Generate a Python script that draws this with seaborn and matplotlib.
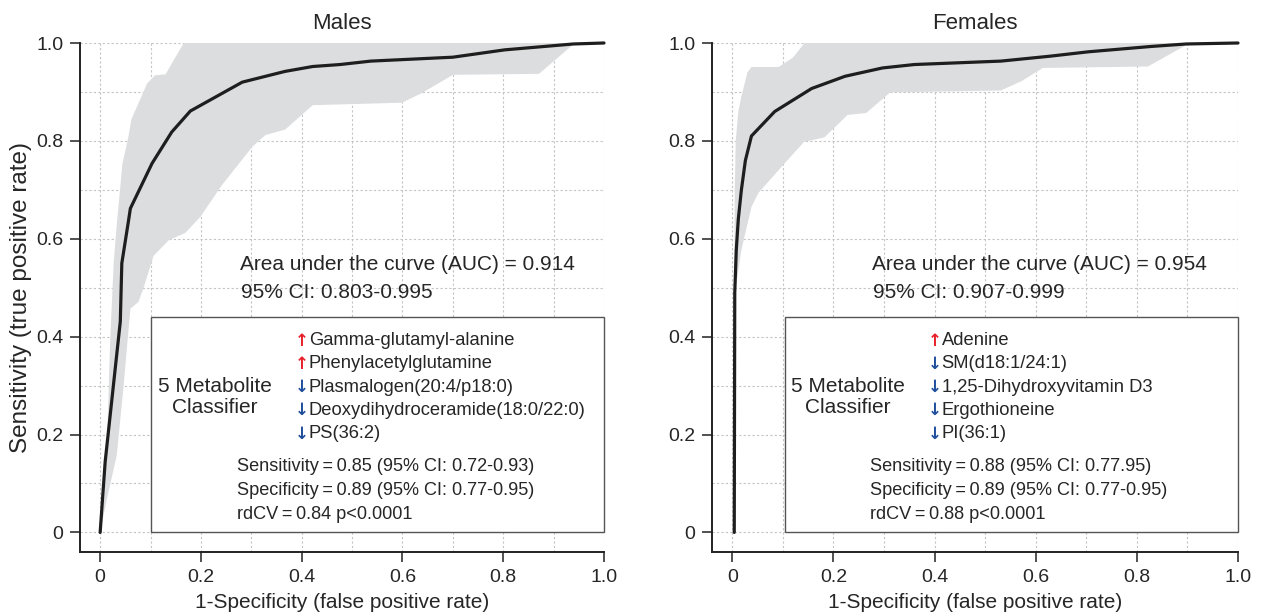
import numpy as np
import pandas as pd
import matplotlib.pyplot as plt
from matplotlib.patches import Rectangle
import seaborn as sns

# --- ROC data ---
male_fpr = [0.000, 0.010, 0.040, 0.043, 0.056, 0.060, 0.103, 0.142, 0.179, 0.282,
            0.367, 0.422, 0.476, 0.537, 0.700, 0.748, 0.803, 0.939, 1.000]
male_tpr = [0.000, 0.145, 0.431, 0.550, 0.635, 0.662, 0.754, 0.818, 0.861, 0.920,
            0.942, 0.952, 0.956, 0.963, 0.971, 0.978, 0.986, 0.998, 1.000]

# 95% CI band: upper edge (left side of band) and lower edge (right side)
male_hi_fpr = [0.000, 0.008, 0.013, 0.020, 0.027, 0.033, 0.040, 0.044, 0.056, 0.062,
               0.080, 0.093, 0.109, 0.130, 0.146, 0.166, 1.000]
male_hi_tpr = [0.000, 0.066, 0.158, 0.396, 0.553, 0.630, 0.706, 0.752, 0.808, 0.844,
               0.886, 0.917, 0.934, 0.936, 0.965, 1.000, 1.000]
male_lo_fpr = [0.000, 0.013, 0.033, 0.046, 0.053, 0.060, 0.076, 0.086, 0.106, 0.136,
               0.169, 0.199, 0.242, 0.302, 0.328, 0.367, 0.422, 0.599, 0.639, 0.700,
               0.871, 0.939, 1.000]
male_lo_tpr = [0.000, 0.066, 0.158, 0.294, 0.376, 0.457, 0.471, 0.499, 0.565, 0.597,
               0.612, 0.645, 0.710, 0.788, 0.812, 0.823, 0.873, 0.878, 0.898, 0.935,
               0.937, 0.997, 1.000]

female_fpr = [0.004, 0.005, 0.008, 0.012, 0.018, 0.026, 0.038, 0.084, 0.157, 0.223,
              0.297, 0.360, 0.531, 0.628, 0.704, 0.829, 0.898, 1.000]
female_tpr = [0.000, 0.490, 0.577, 0.640, 0.699, 0.760, 0.810, 0.860, 0.907, 0.932,
              0.949, 0.956, 0.963, 0.973, 0.982, 0.993, 0.998, 1.000]

female_hi_fpr = [0.004, 0.005, 0.007, 0.012, 0.018, 0.030, 0.038, 0.092, 0.105, 0.120,
                 0.143, 1.000]
female_hi_tpr = [0.480, 0.700, 0.800, 0.860, 0.890, 0.940, 0.951, 0.951, 0.960, 0.970,
                 1.000, 1.000]
female_lo_fpr = [0.004, 0.010, 0.018, 0.038, 0.052, 0.100, 0.142, 0.182, 0.228, 0.265,
                 0.312, 0.531, 0.572, 0.614, 0.822, 0.898, 1.000]
female_lo_tpr = [0.480, 0.520, 0.577, 0.665, 0.694, 0.750, 0.798, 0.807, 0.853, 0.857,
                 0.899, 0.903, 0.922, 0.949, 0.952, 0.996, 1.000]

# --- annotation text ---
titles = ["Males", "Females"]
auc_lines = [["Area under the curve (AUC) = 0.914", "95% CI: 0.803-0.995"],
             ["Area under the curve (AUC) = 0.954", "95% CI: 0.907-0.999"]]
male_markers = ["Gamma-glutamyl-alanine", "Phenylacetylglutamine",
                "Plasmalogen(20:4/p18:0)", "Deoxydihydroceramide(18:0/22:0)", "PS(36:2)"]
male_dirs = ["up", "up", "down", "down", "down"]
female_markers = ["Adenine", "SM(d18:1/24:1)", "1,25-Dihydroxyvitamin D3",
                  "Ergothioneine", "PI(36:1)"]
female_dirs = ["up", "down", "down", "down", "down"]
ts = "\u2009"
stats_lines = [[f"Sensitivity{ts}={ts}0.85 (95% CI: 0.72-0.93)",
                f"Specificity{ts}={ts}0.89 (95% CI: 0.77-0.95)",
                f"rdCV{ts}={ts}0.84 p<0.0001"],
               [f"Sensitivity{ts}={ts}0.88 (95% CI: 0.77.95)",
                f"Specificity{ts}={ts}0.89 (95% CI: 0.77-0.95)",
                f"rdCV{ts}={ts}0.88 p<0.0001"]]

sns.set_style("white")
plt.rcParams['font.family'] = ['Liberation Sans', 'DejaVu Sans']

fig = plt.figure(figsize=(12.62, 6.12), dpi=100)
ax_m = fig.add_axes([80 / 1262, 1 - 552 / 612, 524 / 1262, 509 / 612])
ax_f = fig.add_axes([712 / 1262, 1 - 552 / 612, 526 / 1262, 509 / 612])

panels = [
    (ax_m, male_fpr, male_tpr, male_hi_fpr, male_hi_tpr, male_lo_fpr, male_lo_tpr,
     male_markers, male_dirs),
    (ax_f, female_fpr, female_tpr, female_hi_fpr, female_hi_tpr, female_lo_fpr, female_lo_tpr,
     female_markers, female_dirs),
]

ticks = [0, 0.2, 0.4, 0.6, 0.8, 1.0]
tick_labels = ["0", "0.2", "0.4", "0.6", "0.8", "1.0"]
grid_pos = np.round(np.arange(0, 1.01, 0.1), 1)

for i, (ax, fpr, tpr, hi_x, hi_y, lo_x, lo_y, markers, dirs) in enumerate(panels):
    # CI band as polygon: upper edge up, lower edge back down
    band_x = list(hi_x) + list(lo_x)[::-1]
    band_y = list(hi_y) + list(lo_y)[::-1]
    ax.fill(band_x, band_y, color='#dcdddf', lw=0, zorder=1)

    roc = pd.DataFrame({'fpr': fpr, 'tpr': tpr})
    sns.lineplot(data=roc, x='fpr', y='tpr', ax=ax, sort=False, estimator=None,
                 color='#1e1e1e', lw=2.3, zorder=5, clip_on=False)

    ax.set_xlim(-0.04, 1.0)
    ax.set_ylim(-0.04, 1.0)
    ax.set_xticks(ticks)
    ax.set_xticklabels(tick_labels)
    ax.set_yticks(ticks)
    ax.set_yticklabels(tick_labels)
    ax.set_xticks(grid_pos, minor=True)
    ax.set_yticks(grid_pos, minor=True)
    ax.grid(which='both', color='#c4c4c4', linestyle=(0, (2, 2)), lw=0.8)
    ax.set_axisbelow(True)
    ax.tick_params(which='major', direction='out', length=7, width=1.1, color='#222222',
                   labelsize=14, pad=5, left=True, bottom=True)
    ax.tick_params(which='minor', length=0)
    for s in ['top', 'right']:
        ax.spines[s].set_visible(False)
    for s in ['left', 'bottom']:
        ax.spines[s].set_color('#222222')
        ax.spines[s].set_linewidth(1.4)

    ax.set_title(titles[i], fontsize=16, pad=10)
    ax.set_xlabel('1-Specificity (false positive rate)', fontsize=15, labelpad=5)
    if i == 0:
        ax.set_ylabel('Sensitivity (true positive rate)', fontsize=17.5, labelpad=3)
    else:
        ax.set_ylabel('')

    # AUC text
    ax.text(0.277, 0.547, auc_lines[i][0], fontsize=15, va='center', ha='left', zorder=6)
    ax.text(0.279, 0.490, auc_lines[i][1], fontsize=15, va='center', ha='left', zorder=6)

    # classifier box
    ax.add_patch(Rectangle((0.1 if i == 0 else 0.105, 0.0), 0.9 if i == 0 else 0.895, 0.441,
                           facecolor='white', edgecolor='#555555', lw=1.0,
                           zorder=3, clip_on=False))
    ax.text(0.228, 0.276, "5 Metabolite\nClassifier", fontsize=15, ha='center', va='center',
            linespacing=1.12, zorder=6)
    for k, (name, d) in enumerate(zip(markers, dirs)):
        yk = 0.392 - k * 0.0475
        arrow = '\u2191' if d == 'up' else '\u2193'
        col = '#e8202a' if d == 'up' else '#1f4e9c'
        ax.text(0.400, yk, arrow, color=col, fontsize=12, ha='center', va='center',
                family='DejaVu Sans', fontweight='bold', zorder=6)
        ax.text(0.414, yk, name, fontsize=13.2, ha='left', va='center', zorder=6)
    for k, line in enumerate(stats_lines[i]):
        ax.text(0.272, 0.135 - k * 0.049, line, fontsize=13.1, ha='left', va='center', zorder=6)

plt.savefig('out.png', dpi=100)
